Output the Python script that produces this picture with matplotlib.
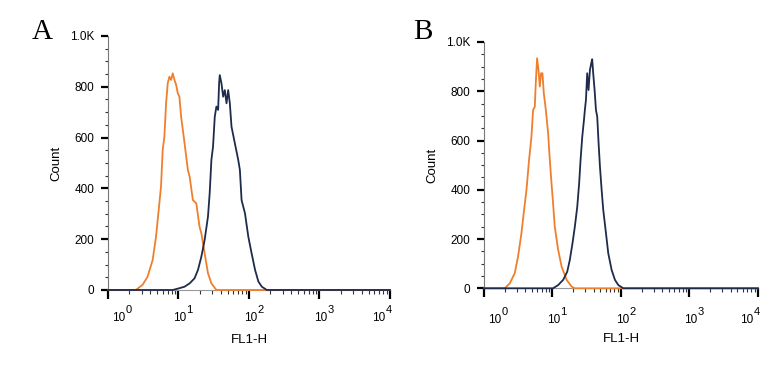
import matplotlib
matplotlib.use('Agg')
import matplotlib.pyplot as plt
import numpy as np

plt.rcParams['font.family'] = ['Liberation Sans', 'DejaVu Sans']

# panel A histograms (FL1-H value, count)
orange_a_x = [1, 2.48, 3.09, 3.64, 4.30, 4.80, 5.24, 5.65, 5.97, 6.31, 6.67, 7.04, 7.44, 7.86, 8.29, 8.77,
              9.27, 9.78, 10.3, 10.9, 12.2, 13.6, 14.4, 16.0, 17.9, 19.9, 21.1, 23.5, 26.2, 29.3, 34.5, 10000]
orange_a_y = [0, 0, 20, 52, 118, 210, 315, 407, 551, 604, 735, 814, 840, 827, 853, 827,
              807, 774, 761, 682, 577, 472, 446, 354, 341, 249, 223, 144, 66, 26, 0, 0]
navy_a_x = [1, 8.3, 10.3, 12.2, 14.4, 16.9, 18.9, 21.1, 23.5, 26.2, 27.7, 29.3, 30.9, 32.7, 34.5, 36.5,
            37.7, 38.5, 40.7, 43.0, 45.4, 48.0, 50.7, 53.5, 56.5, 63.1, 70.4, 74.3, 78.5, 87.7, 97.8,
            109, 122, 136, 152, 179, 10000]
navy_a_y = [0, 0, 7, 13, 26, 46, 79, 131, 197, 289, 381, 512, 564, 682, 722, 709,
            814, 846, 814, 761, 787, 735, 787, 735, 643, 577, 512, 472, 354, 302, 210,
            144, 79, 33, 13, 0, 0]

# panel B histograms
orange_b_x = [1, 2.01, 2.38, 2.81, 3.14, 3.52, 3.85, 4.17, 4.55, 4.93, 5.21, 5.52, 5.70, 5.96, 6.25, 6.53,
              6.82, 7.14, 7.47, 8.0, 8.64, 9.14, 9.68, 10.2, 10.8, 12.1, 13.6, 16.1, 19.0, 21.2, 10000]
orange_b_y = [0, 0, 20, 61, 128, 223, 318, 399, 521, 615, 724, 737, 832, 934, 886, 819,
              873, 873, 792, 724, 629, 521, 426, 345, 250, 156, 88, 34, 7, 0, 0]
navy_b_x = [1, 10.2, 12.1, 14.3, 16.4, 17.9, 19.6, 21.2, 23.0, 24.5, 25.7, 27.2, 28.8, 29.7, 30.8, 32.1,
            33.6, 35.2, 36.8, 38.0, 39.3, 41.2, 43.1, 45.0, 47.1, 49.3, 52.2, 55.1, 60.4, 65.2, 73.1,
            81.7, 91.4, 108, 10000]
navy_b_y = [0, 0, 13, 34, 67, 115, 183, 250, 331, 426, 521, 615, 683, 724, 765, 873,
            805, 886, 914, 930, 873, 805, 724, 697, 589, 494, 399, 318, 223, 142, 74,
            34, 13, 0, 0]

decades = [0, 1, 2, 3, 4]
y_ticks = [0, 200, 400, 600, 800, 1000]
y_tick_labels = ['0', '200', '400', '600', '800', '1.0K']

ORANGE = '#EF7F2C'
NAVY = '#1E2B4C'


def draw_panel(ax, ox, oy, nx, ny, letter, letter_pos, label_drop):
    ax.plot(ox, oy, color=ORANGE, lw=1.3, clip_on=False, zorder=3)
    ax.plot(nx, ny, color=NAVY, lw=1.3, clip_on=False, zorder=4)

    ax.set_xscale('log')
    ax.set_xlim(1, 1e4)
    ax.set_ylim(0, 1000)

    for s in ['top', 'right']:
        ax.spines[s].set_visible(False)
    ax.spines['left'].set_color('#777777')
    ax.spines['bottom'].set_color('#999999')
    ax.spines['left'].set_linewidth(0.8)
    ax.spines['bottom'].set_linewidth(0.8)

    ax.set_yticks(y_ticks)
    ax.set_yticklabels(y_tick_labels)
    ax.set_yticks(np.arange(0, 1001, 50), minor=True)
    ax.tick_params(axis='y', which='major', length=5, width=1.6, color='black', labelsize=8.5, pad=5)
    ax.tick_params(axis='y', which='minor', length=2.5, width=0.8, color='#333333')

    ax.set_xticks([10.0 ** d for d in decades])
    ax.set_xticklabels([])
    ax.xaxis.set_minor_locator(matplotlib.ticker.LogLocator(base=10, subs=np.arange(2, 10)))
    ax.xaxis.set_minor_formatter(matplotlib.ticker.NullFormatter())
    ax.tick_params(axis='x', which='major', length=6.5, width=1.6, color='black')
    ax.tick_params(axis='x', which='minor', length=3, width=0.8, color='#333333')

    # FlowJo style decade labels: "10" with exponent beside it
    shifts = [8, 1, 1, 1, -8]
    for d, dx in zip(decades, shifts):
        ax.annotate('10', xy=(10.0 ** d, 0), xycoords=('data', 'axes fraction'),
                    xytext=(dx, -label_drop), textcoords='offset points',
                    ha='center', va='center', fontsize=8.5, annotation_clip=False)
        ax.annotate(str(d), xy=(10.0 ** d, 0), xycoords=('data', 'axes fraction'),
                    xytext=(dx + 7, -label_drop + 5.8), textcoords='offset points',
                    ha='center', va='center', fontsize=8, annotation_clip=False)

    ax.set_ylabel('Count', fontsize=9.5, labelpad=5)
    ax.set_xlabel('FL1-H', fontsize=9.5, labelpad=22)
    ax.text(letter_pos[0], letter_pos[1], letter, transform=ax.transAxes, fontsize=21,
            family='Liberation Serif', ha='center', va='center')


fig = plt.figure(figsize=(7.73, 3.68), dpi=100)
ax1 = fig.add_axes([0.1397, 0.2120, 0.3648, 0.6902])
ax2 = fig.add_axes([0.6261, 0.2166, 0.3545, 0.6693])

draw_panel(ax1, orange_a_x, orange_a_y, navy_a_x, navy_a_y, 'A', (-0.232, 1.014), 20.5)
draw_panel(ax2, orange_b_x, orange_b_y, navy_b_x, navy_b_y, 'B', (-0.223, 1.04), 23)

plt.savefig('out.png', dpi=100)
plt.close()
